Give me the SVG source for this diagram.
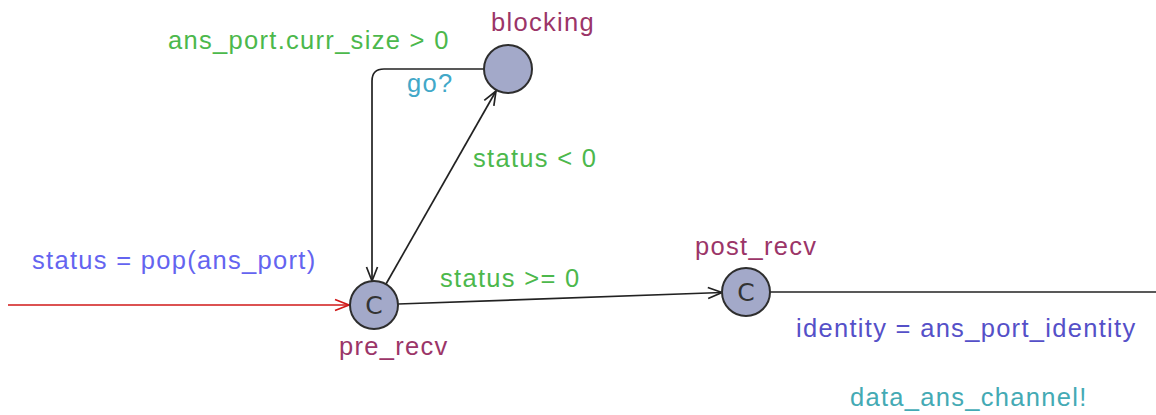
<svg xmlns="http://www.w3.org/2000/svg" width="1156" height="415" viewBox="0 0 1156 415">
<style>
.loc{fill:#a3a9c9;stroke:#2e2e2e;stroke-width:2}
.t{font-family:"Liberation Sans",Arial,sans-serif;font-size:25.5px;letter-spacing:1.3px}
.name{fill:#9b3568}
.guard{fill:#4cb84c}
.sync{fill:#42a8c8}
.assign{fill:#6464f0}
.assign2{fill:#5550c8}
.c{font-family:"DejaVu Sans",sans-serif;font-size:25px;fill:#333}
.edge{fill:none;stroke:#222;stroke-width:1.7}
.init{fill:none;stroke:#d01818;stroke-width:1.7}
</style>
<defs>
<marker id="ah" viewBox="0 0 16 14" refX="15" refY="7" markerWidth="16" markerHeight="14" markerUnits="userSpaceOnUse" orient="auto">
<path d="M1,1.5 L15,7 L1,12.5" fill="none" stroke="#222" stroke-width="1.7"/>
</marker>
<marker id="ahr" viewBox="0 0 16 14" refX="15" refY="7" markerWidth="16" markerHeight="14" markerUnits="userSpaceOnUse" orient="auto">
<path d="M1,1.5 L15,7 L1,12.5" fill="none" stroke="#d01818" stroke-width="1.7"/>
</marker>
</defs>
<g id="connectors">
<path class="init" d="M8,305 L349,305" marker-end="url(#ahr)"/>
<path class="edge" d="M398,304 L722,292.5" marker-end="url(#ah)"/>
<path class="edge" d="M770,292 L1156,292"/>
<path class="edge" d="M386,284 L496,91" marker-end="url(#ah)"/>
<path class="edge" d="M484,69 L384,69 Q372,69 372,81 L372,281" marker-end="url(#ah)"/>
</g>
<g id="labels">
<text class="t assign" x="32" y="269">status = pop(ans_port)</text>
<text class="t guard" x="168" y="49">ans_port.curr_size &gt; 0</text>
<text class="t sync" x="407" y="92">go?</text>
<text class="t guard" x="473" y="167">status &lt; 0</text>
<text class="t guard" x="440" y="287">status &gt;= 0</text>
<text class="t assign2" x="796" y="337">identity = ans_port_identity</text>
<text class="t sync" x="850" y="406" style="fill:#44aab4">data_ans_channel!</text>
</g>
<g id="blocking">
<circle class="loc" cx="508" cy="69" r="24"/>
<text class="t name" x="491" y="31">blocking</text>
</g>
<g id="pre_recv">
<circle class="loc" cx="374" cy="305" r="24"/>
<text class="c" x="374" y="314" text-anchor="middle">C</text>
<text class="t name" x="339" y="355">pre_recv</text>
</g>
<g id="post_recv">
<circle class="loc" cx="746" cy="292" r="24"/>
<text class="c" x="746" y="301" text-anchor="middle">C</text>
<text class="t name" x="695" y="255">post_recv</text>
</g>
</svg>
